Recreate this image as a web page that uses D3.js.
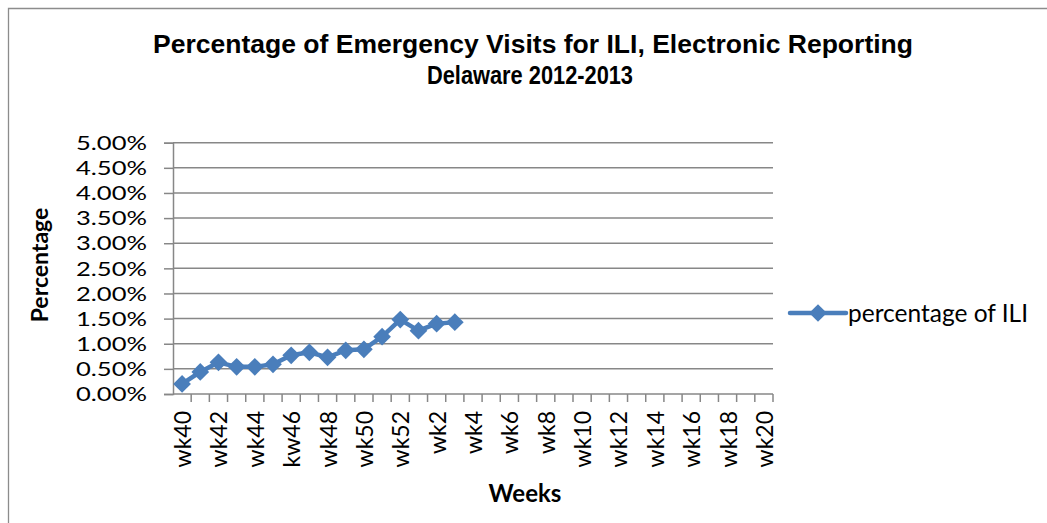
<!DOCTYPE html>
<html>
<head>
<meta charset="utf-8">
<script src="https://cdn.jsdelivr.net/npm/d3@7"></script>
<style>
  body { margin: 0; background: #fff; }
  svg { display: block; }
</style>
</head>
<body>
<svg id="chart" width="1047" height="523"></svg>
<script>
// weeks of the 2012-2013 season (wk40 .. wk52, wk1 .. wk20)
const weeks = ["wk40","wk41","wk42","wk43","wk44","wk45","kw46","wk47","wk48","wk49","wk50","wk51","wk52",
  "wk1","wk2","wk3","wk4","wk5","wk6","wk7","wk8","wk9","wk10","wk11","wk12","wk13","wk14","wk15","wk16",
  "wk17","wk18","wk19","wk20"];
// reported so far
const reportedWeeks = ["wk40","wk41","wk42","wk43","wk44","wk45","kw46","wk47","wk48","wk49","wk50","wk51","wk52","wk1","wk2","wk3"];
const iliPct = [0.0020,0.0044,0.0063,0.0054,0.0054,0.0059,0.0077,0.0083,0.0073,0.0087,0.0089,0.0114,0.0148,0.0126,0.0140,0.0143];
const yTicks = [0,0.005,0.01,0.015,0.02,0.025,0.03,0.035,0.04,0.045,0.05];
const seriesName = "percentage of ILI";

const svg = d3.select("#chart");
const blue = "#4a7ebb";
const grid = "#878787";
const font = "Lato, 'Liberation Sans', sans-serif";

// chart area border (cropped at right/bottom)
svg.append("path")
  .attr("d", "M8.5,1100 V8.5 H1100")
  .attr("fill", "none")
  .attr("stroke", "#8c8c8c")
  .attr("stroke-width", 1.3);

const plotLeft = 173, plotRight = 773, plotTop = 142.7, plotBottom = 394;

const x = d3.scaleBand().domain(weeks).range([plotLeft, plotRight]);
const y = d3.scaleLinear().domain([0, 0.05]).range([plotBottom, plotTop]);

// gridlines
svg.append("g")
  .selectAll("line")
  .data(yTicks.slice(1))
  .join("line")
  .attr("x1", plotLeft).attr("x2", plotRight)
  .attr("y1", d => y(d)).attr("y2", d => y(d))
  .attr("stroke", grid).attr("stroke-width", 1.5);

// y axis
const yAxis = svg.append("g")
  .attr("transform", `translate(${plotLeft},0)`)
  .call(d3.axisLeft(y).tickValues(yTicks).tickFormat(d3.format(".2%")).tickSize(9).tickPadding(17));
yAxis.select(".domain").attr("stroke", grid).attr("stroke-width", 1.5);
yAxis.selectAll(".tick line").attr("stroke", grid).attr("stroke-width", 1.5);
yAxis.selectAll("text")
  .attr("font-family", font).attr("font-size", 18.5).attr("fill", "#000")
  .attr("textLength", 71).attr("lengthAdjust", "spacingAndGlyphs")
  .attr("dy", "0.36em");

// x axis: ticks at category boundaries
const xg = svg.append("g");
xg.append("line")
  .attr("x1", plotLeft).attr("x2", plotRight).attr("y1", plotBottom).attr("y2", plotBottom)
  .attr("stroke", grid).attr("stroke-width", 1.5);
xg.selectAll("line.tk")
  .data(weeks)
  .join("line")
  .attr("class", "tk")
  .attr("x1", d => x(d) + x.bandwidth()).attr("x2", d => x(d) + x.bandwidth())
  .attr("y1", plotBottom).attr("y2", plotBottom + 8)
  .attr("stroke", grid).attr("stroke-width", 1.5);
xg.selectAll("text")
  .data(weeks.filter((d, i) => i % 2 === 0))
  .join("text")
  .attr("transform", d => `translate(${x(d) + x.bandwidth() / 2 + 9},${plotBottom + 17}) rotate(-90)`)
  .attr("text-anchor", "end")
  .attr("font-family", font).attr("font-size", 23).attr("fill", "#000")
  .text(d => d);

// series
const pts = reportedWeeks.map((w, i) => ({w, v: iliPct[i]}));
const line = d3.line().x(d => x(d.w) + x.bandwidth() / 2).y(d => y(d.v));
svg.append("path")
  .datum(pts)
  .attr("d", line)
  .attr("fill", "none")
  .attr("stroke", blue)
  .attr("stroke-width", 4.5)
  .attr("stroke-linejoin", "round");
const diamond = d3.symbol().type(d3.symbolDiamond2).size(200);
svg.append("g")
  .selectAll("path")
  .data(pts)
  .join("path")
  .attr("transform", d => `translate(${x(d.w) + x.bandwidth() / 2},${y(d.v)})`)
  .attr("d", diamond)
  .attr("fill", blue);

// title (stretched wide like the original)
const titleFont = "'Liberation Sans', Arial, sans-serif";
svg.append("text")
  .attr("x", 533).attr("y", 53)
  .attr("text-anchor", "middle")
  .attr("font-family", titleFont).attr("font-weight", "bold").attr("font-size", 25)
  .attr("textLength", 760).attr("lengthAdjust", "spacingAndGlyphs")
  .text("Percentage of Emergency Visits for ILI, Electronic Reporting");
svg.append("text")
  .attr("x", 530).attr("y", 83.5)
  .attr("text-anchor", "middle")
  .attr("font-family", titleFont).attr("font-weight", "bold").attr("font-size", 25)
  .attr("textLength", 206).attr("lengthAdjust", "spacingAndGlyphs")
  .text("Delaware 2012-2013");

// axis titles
svg.append("text")
  .attr("x", 525).attr("y", 502)
  .attr("text-anchor", "middle")
  .attr("font-family", font).attr("font-weight", "bold").attr("font-size", 24)
  .text("Weeks");
svg.append("text")
  .attr("transform", "translate(48,265) rotate(-90)")
  .attr("text-anchor", "middle")
  .attr("font-family", font).attr("font-weight", "bold").attr("font-size", 23)
  .text("Percentage");

// legend
const lg = svg.append("g").attr("transform", "translate(790,313)");
lg.append("line").attr("x1", 0).attr("x2", 56).attr("y1", 0).attr("y2", 0)
  .attr("stroke", blue).attr("stroke-width", 4.5).attr("stroke-linecap", "round");
lg.append("path").attr("transform", "translate(28,0)").attr("d", diamond).attr("fill", blue);
lg.append("text").attr("x", 58).attr("y", 0).attr("dy", "0.35em")
  .attr("font-family", font).attr("font-size", 24.5).attr("fill", "#000")
  .text(seriesName);
</script>
</body>
</html>
